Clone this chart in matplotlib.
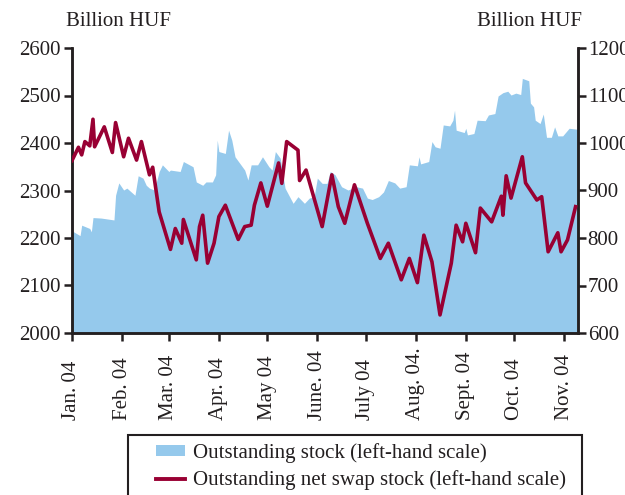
import matplotlib
matplotlib.use("Agg")
import matplotlib.pyplot as plt
import matplotlib.patches as mpatches
from matplotlib.lines import Line2D
import pandas as pd

plt.rcParams['font.family'] = ['Liberation Serif', 'DejaVu Serif']

# Outstanding stock (left axis, billion HUF)
stock_dates = [
    "2004-01-01", "2004-01-02", "2004-01-06", "2004-01-07", "2004-01-12", "2004-01-13", "2004-01-14",
    "2004-01-19", "2004-01-27", "2004-01-28", "2004-01-30", "2004-02-02", "2004-02-04", "2004-02-09",
    "2004-02-11", "2004-02-14", "2004-02-16", "2004-02-18", "2004-02-21", "2004-02-24", "2004-02-26",
    "2004-03-01", "2004-03-02", "2004-03-08", "2004-03-10", "2004-03-16", "2004-03-18", "2004-03-22",
    "2004-03-24", "2004-03-28", "2004-03-30", "2004-03-31", "2004-04-01", "2004-04-05", "2004-04-07",
    "2004-04-09", "2004-04-11", "2004-04-14", "2004-04-17", "2004-04-19", "2004-04-21", "2004-04-25",
    "2004-04-28", "2004-05-02", "2004-05-04", "2004-05-06", "2004-05-09", "2004-05-12", "2004-05-17",
    "2004-05-20", "2004-05-24", "2004-05-27", "2004-05-30", "2004-06-01", "2004-06-04", "2004-06-07",
    "2004-06-09", "2004-06-12", "2004-06-16", "2004-06-20", "2004-06-25", "2004-06-29", "2004-07-02",
    "2004-07-05", "2004-07-09", "2004-07-12", "2004-07-15", "2004-07-19", "2004-07-22", "2004-07-26",
    "2004-07-28", "2004-08-02", "2004-08-03", "2004-08-04", "2004-08-09", "2004-08-11", "2004-08-13",
    "2004-08-16", "2004-08-18", "2004-08-22", "2004-08-24", "2004-08-25", "2004-08-26", "2004-08-31",
    "2004-09-01", "2004-09-02", "2004-09-06", "2004-09-08", "2004-09-13", "2004-09-15", "2004-09-19",
    "2004-09-21", "2004-09-24", "2004-09-27", "2004-09-29", "2004-10-02", "2004-10-05", "2004-10-06",
    "2004-10-10", "2004-10-11", "2004-10-13", "2004-10-14", "2004-10-17", "2004-10-19", "2004-10-21",
    "2004-10-24", "2004-10-26", "2004-10-28", "2004-10-31", "2004-11-04", "2004-11-09",
]
stock_values = [
    2215, 2213, 2205, 2227, 2220, 2213, 2243,
    2242, 2238, 2290, 2316, 2301, 2305, 2290,
    2331, 2326, 2311, 2305, 2301, 2340, 2354,
    2340, 2343, 2340, 2361, 2350, 2318, 2311,
    2318, 2318, 2333, 2406, 2382, 2378, 2427,
    2406, 2371, 2357, 2343, 2322, 2354, 2354,
    2371, 2350, 2343, 2382, 2368, 2305, 2273,
    2287, 2273, 2284, 2287, 2326, 2315, 2315,
    2340, 2333, 2308, 2301, 2308, 2305, 2284,
    2281, 2287, 2297, 2321, 2316, 2305, 2308,
    2354, 2352, 2371, 2356, 2361, 2403, 2392,
    2389, 2438, 2436, 2448, 2469, 2427, 2422,
    2431, 2417, 2420, 2448, 2447, 2459, 2462,
    2499, 2506, 2509, 2501, 2505, 2502, 2536,
    2531, 2484, 2476, 2448, 2441, 2461, 2412,
    2412, 2434, 2415, 2415, 2431, 2429,
]

# Outstanding net swap stock (right axis, billion HUF)
swap_dates = [
    "2004-01-01", "2004-01-05", "2004-01-07", "2004-01-09", "2004-01-12", "2004-01-14", "2004-01-15",
    "2004-01-21", "2004-01-26", "2004-01-28", "2004-02-02", "2004-02-05", "2004-02-10", "2004-02-13",
    "2004-02-18", "2004-02-20", "2004-02-24", "2004-03-02", "2004-03-05", "2004-03-09", "2004-03-10",
    "2004-03-18", "2004-03-20", "2004-03-22", "2004-03-25", "2004-03-29", "2004-04-01", "2004-04-05",
    "2004-04-13", "2004-04-17", "2004-04-21", "2004-04-23", "2004-04-27", "2004-05-01", "2004-05-08",
    "2004-05-10", "2004-05-13", "2004-05-20", "2004-05-21", "2004-05-25", "2004-06-04", "2004-06-10",
    "2004-06-14", "2004-06-18", "2004-06-24", "2004-07-02", "2004-07-10", "2004-07-15", "2004-07-23",
    "2004-07-28", "2004-08-02", "2004-08-06", "2004-08-11", "2004-08-16", "2004-08-23", "2004-08-26",
    "2004-08-30", "2004-09-01", "2004-09-07", "2004-09-10", "2004-09-17", "2004-09-23", "2004-09-24",
    "2004-09-26", "2004-09-29", "2004-10-06", "2004-10-08", "2004-10-15", "2004-10-18", "2004-10-22",
    "2004-10-28", "2004-10-30", "2004-11-03", "2004-11-08",
]
swap_values = [
    963, 991, 975, 1003, 994, 1050, 992,
    1034, 980, 1043, 971, 1010, 964, 1003,
    933, 949, 855, 776, 820, 789, 839,
    754, 824, 848, 747, 789, 845, 869,
    797, 824, 827, 869, 916, 867, 958,
    915, 1003, 985, 921, 943, 824, 933,
    866, 831, 912, 831, 757, 789, 712,
    757, 706, 806, 750, 638, 747, 827,
    792, 831, 769, 863, 834, 888, 848,
    931, 884, 971, 916, 880, 887, 771,
    811, 771, 796, 866,
]

month_ticks = ["2004-01-01", "2004-02-01", "2004-03-01", "2004-04-01", "2004-05-01", "2004-06-01",
               "2004-07-01", "2004-08-01", "2004-09-01", "2004-10-01", "2004-11-01"]
month_labels = ["Jan. 04", "Feb. 04", "Mar. 04", "Apr. 04", "May 04", "June. 04",
                "July 04", "Aug. 04.", "Sept. 04", "Oct. 04", "Nov. 04"]

left_ticks = [2000, 2100, 2200, 2300, 2400, 2500, 2600]
right_ticks = [600, 700, 800, 900, 1000, 1100, 1200]

legend_labels = ["Outstanding stock (left-hand scale)",
                 "Outstanding net swap stock (left-hand scale)"]

BLUE = "#95C9EC"
RED = "#990033"
INK = "#231F20"
FS = 15

fig = plt.figure(figsize=(6.25, 4.95), dpi=100)
ax = fig.add_axes([72/625, 1 - 333/495, (578-72)/625, (333-48)/495])
ax2 = ax.twinx()

sd = pd.to_datetime(stock_dates)
wd = pd.to_datetime(swap_dates)
mt = pd.to_datetime(month_ticks)

ax.fill_between(sd, 2000, stock_values, color=BLUE, linewidth=0, zorder=1)
ax2.plot(wd, swap_values, color=RED, linewidth=2.6, zorder=3)

ax.set_xlim(pd.Timestamp("2004-01-01"), pd.Timestamp("2004-11-09 12:00"))
ax.set_ylim(2000, 2600)
ax2.set_ylim(600, 1200)

ax.set_yticks(left_ticks)
ax.set_yticklabels([str(v) for v in left_ticks], fontsize=FS, color=INK)
ax2.set_yticks(right_ticks)
ax2.set_yticklabels([str(v) for v in right_ticks], fontsize=FS, color=INK)
ax.set_xticks(mt)
ax.set_xticklabels([])

# month labels, rotated, aligned at their start (bottom)
xtr = ax.get_xaxis_transform()
for d, lab in zip(mt, month_labels):
    ax.text(d, -(420 - 333) / 285, lab, transform=xtr, rotation=90, ha='center', va='bottom',
            fontsize=FS, color=INK, clip_on=False)

for a in (ax, ax2):
    a.spines['top'].set_visible(False)
    for s in ('left', 'right', 'bottom'):
        a.spines[s].set_linewidth(1.8)
        a.spines[s].set_color(INK)
    a.tick_params(length=6, width=1.8, color=INK, pad=2, direction='out')
ax2.tick_params(axis='y', pad=1)

fig.text(66/625, 1 - 22/495, "Billion HUF", fontsize=FS, color=INK, va='center', ha='left')
fig.text(582/625, 1 - 22/495, "Billion HUF", fontsize=FS, color=INK, va='center', ha='right')

# legend frame
frame = mpatches.Rectangle((128/625, -0.1), (582-128)/625, 0.1 + (495-435)/495,
                           transform=fig.transFigure, fill=False, edgecolor=INK,
                           linewidth=1.5, clip_on=False)
fig.add_artist(frame)
handles = [mpatches.Patch(facecolor=BLUE, edgecolor='none'),
           Line2D([], [], color=RED, linewidth=2.8)]
fig.legend(handles, legend_labels, loc='upper left', bbox_to_anchor=(156/625, 1 - 443/495),
           frameon=False, fontsize=FS, handlelength=1.4, handleheight=0.5,
           handletextpad=0.38, labelspacing=0.36, borderpad=0, borderaxespad=0,
           labelcolor=INK)

fig.savefig("out.png", dpi=100)
